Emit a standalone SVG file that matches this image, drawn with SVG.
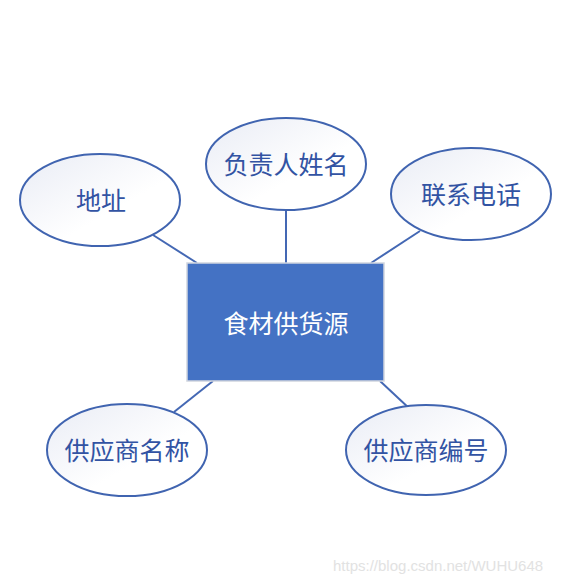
<svg xmlns="http://www.w3.org/2000/svg" width="565" height="584" viewBox="0 0 565 584">
<style>
.e{stroke:#4064B0;stroke-width:2;fill:url(#g)}
.t{font-family:"Noto Sans CJK SC","Liberation Sans",sans-serif;font-size:25px;fill:#3253A3;text-anchor:middle;dominant-baseline:central}
.c line{stroke:#4468B4;stroke-width:2}
</style>
<defs>
<linearGradient id="g" x1="0" y1="0" x2="1" y2="1">
<stop offset="0" stop-color="#E9ECF5"/>
<stop offset="0.6" stop-color="#FFFFFF"/>
<stop offset="1" stop-color="#FFFFFF"/>
</linearGradient>
</defs>
<rect width="565" height="584" fill="#fff"/>
<g class="c" id="connectors">
<line x1="153" y1="235" x2="197" y2="263"/>
<line x1="286" y1="210" x2="286" y2="263"/>
<line x1="420" y1="231" x2="371" y2="263"/>
<line x1="174" y1="412" x2="213" y2="381"/>
<line x1="380" y1="381" x2="411" y2="410"/>
</g>
<g id="main">
<rect x="187" y="263" width="197" height="118" fill="#4472C4" stroke="#D0D5DE" stroke-width="1.5"/>
<text class="t" x="286" y="322" style="fill:#fff">食材供货源</text>
</g>
<g id="addr"><ellipse class="e" cx="100" cy="200" rx="80" ry="46"/><text class="t" x="101" y="199">地址</text></g>
<g id="person"><ellipse class="e" cx="286" cy="164" rx="80" ry="46"/><text class="t" x="286" y="163">负责人姓名</text></g>
<g id="phone"><ellipse class="e" cx="471" cy="194" rx="80" ry="46"/><text class="t" x="471" y="193">联系电话</text></g>
<g id="name"><ellipse class="e" cx="127" cy="450" rx="80" ry="46"/><text class="t" x="127" y="449">供应商名称</text></g>
<g id="code"><ellipse class="e" cx="426" cy="450" rx="80" ry="45"/><text class="t" x="426" y="449">供应商编号</text></g>
<text x="333" y="571" font-family="Liberation Sans,sans-serif" font-size="15" fill="#E2E2E2">https://blog.csdn.net/WUHU648</text>
</svg>
